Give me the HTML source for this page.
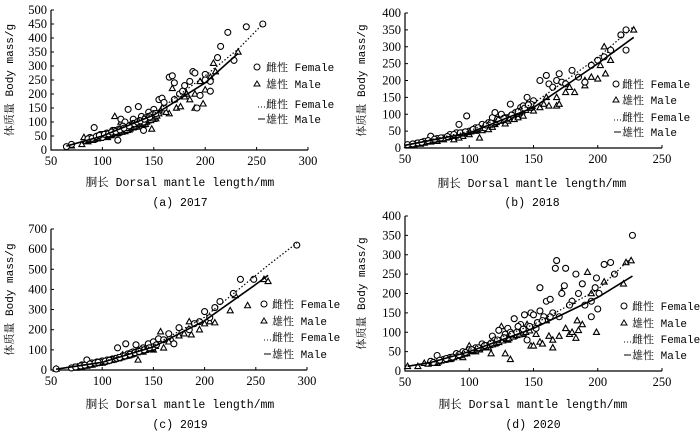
<!DOCTYPE html>
<html><head><meta charset="utf-8"><style>
html,body{margin:0;padding:0;background:#fff;}
svg{display:block;font-family:"Liberation Serif","Noto Serif CJK SC",serif;}
</style></head><body>
<svg id="chart" width="700" height="434" viewBox="0 0 700 434"></svg>
<script>
// ---- Data: (a) 2017 ----
const aFemL=[65,70,92,88,100,105,110,115,118,125,122,130,135,140,138,145,150,155,158,160,165,168,170,175,180,185,188,190,192,195,200,205,205,212,215,222,228,240,256,110,120,130,145,160,178,200,95,100,108,128,140,150,170,98,104,112,116,124,132,136,142,148,86,90,94,97,102,106,109,113,117,121,126,131,134,137,141,146,152];
const aFemW=[12,20,80,45,55,60,70,35,110,145,100,110,155,70,120,135,145,180,185,150,260,265,240,200,230,245,280,275,150,195,270,210,245,330,370,420,320,440,450,65,85,95,120,170,210,250,50,45,58,90,100,130,180,55,60,70,75,80,95,105,115,125,40,42,48,52,56,58,64,66,72,78,86,94,100,104,110,118,130];
const aMalL=[70,80,82,90,95,100,105,112,115,120,125,130,135,140,148,150,155,160,165,168,172,176,180,185,190,195,198,200,205,208,210,232,118,128,138,145,158,170,182,190,86,92,98,104,108,114,122,126,134,142,152,162,84,87,89,91,93,96,97,99,101,103,106,107,109,111,113,116,117,119,121,123,124,127,129,131,133,136,137,139,141,143,144,146,147,149,151,153];
const aMalW=[15,20,45,35,40,50,45,120,60,70,75,80,95,90,75,110,130,140,130,220,150,155,190,180,150,245,165,215,260,310,280,350,100,85,100,115,150,180,200,200,30,38,42,48,52,58,66,72,82,92,112,135,32,35,38,36,40,44,42,47,46,50,52,55,54,58,60,62,65,64,68,72,70,76,80,82,86,90,92,96,98,100,104,108,106,112,118,122];
const aCurveL=[65,100,150,200,232,256];
const aFemCurve=[14,50,130,265,360,450];
const aMalCurve=[14,50,125,240,345,null];
// ---- Data: (b) 2018 ----
const bFemL=[52,60,70,80,90,92,98,105,110,118,120,125,132,140,145,150,155,160,162,165,168,170,172,180,185,190,195,200,205,218,222,222,100,112,130,140,148,175,210,85,75,65,95,102,108,115,122,128,136,142,56,63,68,73,78,83,88,93,97,103,107,113,117,123,127,133,138,143,146];
const bFemW=[10,15,35,30,45,70,95,60,70,90,105,100,130,120,150,140,200,215,190,180,200,220,195,230,210,195,245,260,270,335,350,290,50,60,90,110,130,190,290,40,28,20,45,52,58,75,85,90,105,125,12,17,22,26,30,34,40,45,48,55,60,68,74,82,88,98,108,118,128];
const bMalL=[52,58,65,75,85,95,100,108,115,125,135,142,150,155,158,162,168,170,168,178,182,190,190,195,200,202,205,206,210,210,228,120,130,145,160,175,88,105,62,70,80,92,110,118,128,138,148,55,57,60,62,64,67,69,72,74,77,79,82,84,87,89,91,94,96,99,101,104,106,109,111,114,116,119,121,124,126,129,131,134,137,139,141,144,147,149];
const bMalW=[8,12,15,20,35,35,40,30,55,80,85,95,110,120,130,125,125,130,150,180,165,200,185,210,205,245,300,220,290,260,350,70,80,130,150,165,25,50,12,18,25,30,52,62,72,90,120,9,10,13,14,16,18,20,22,24,26,28,30,32,35,36,38,42,43,46,48,52,55,58,62,66,68,72,76,80,82,86,90,96,100,104,108,112,118,124];
const bCurveL=[50,100,150,200,228];
const bFemCurve=[8,50,132,268,360];
const bMalCurve=[8,45,120,250,328];
// ---- Data: (c) 2019 ----
const cFemL=[55,70,85,95,105,115,118,123,130,133,140,145,150,155,160,165,170,175,185,195,200,205,210,215,228,235,248,290,100,110,125,138,150,190,80,90,98,108,112,120,128,135,143,74,79,83,88,93,96,103,107,114,117,122,127,132,136,141,146,153];
const cFemW=[5,10,50,40,50,110,60,130,90,125,110,130,140,155,150,180,130,210,200,240,290,260,310,340,380,450,450,620,45,55,80,100,115,230,25,35,40,50,55,70,85,95,105,15,20,24,30,35,38,44,48,58,62,70,78,86,92,100,110,125];
const cMalL=[55,75,85,95,105,115,125,135,140,150,157,160,168,175,185,187,195,200,205,210,225,230,242,258,262,120,130,145,165,180,110,100,80,90,102,112,118,128,138,148,72,76,78,82,84,87,89,92,94,97,99,101,104,106,109,111,113,116,119,121,123,126,129,131,134,137,139,142,144,147,149,152];
const cMalW=[5,10,20,35,45,60,70,50,90,100,190,110,150,170,240,175,200,230,240,235,295,370,320,450,440,75,85,105,140,180,50,35,15,25,40,55,65,75,90,105,12,15,16,20,22,25,27,30,32,34,36,38,42,45,48,50,54,58,62,66,68,72,78,80,86,90,94,98,102,108,112,118];
const cCurveL=[55,100,150,200,250,262,290];
const cFemCurve=[4,40,122,262,470,520,630];
const cMalCurve=[4,38,115,245,425,470,null];
// ---- Data: (d) 2020 ----
const dFemL=[70,75,80,90,100,110,118,123,130,135,140,143,145,148,150,152,155,155,160,163,165,167,168,170,172,174,175,180,183,185,188,190,195,195,198,199,200,201,205,210,213,227,120,128,138,158,178,85,95,105,112,132,72,77,82,87,92,97,102,107,112,117,122,127,133,137,142,147,153,157,163];
const dFemW=[25,40,30,45,55,70,90,105,110,135,120,145,80,150,145,110,215,155,180,185,150,265,285,140,200,220,265,180,250,200,225,170,140,180,215,240,160,200,275,280,250,350,80,95,115,140,170,35,50,60,65,100,22,28,32,36,42,48,55,60,66,72,80,86,95,100,108,115,125,130,140];
const dMalL=[52,60,65,75,85,95,100,105,117,125,128,132,140,145,148,150,152,155,157,162,165,165,170,172,175,178,180,183,184,185,188,192,195,199,205,220,222,226,110,120,135,160,180,90,80,98,108,115,130,142,68,71,73,76,78,81,83,86,88,91,93,96,98,101,103,106,108,111,113,116,118,121,123,126,129,131,134,137,139,142,144,147];
const dMalW=[12,12,20,20,30,35,65,50,45,115,45,30,100,120,65,65,95,75,70,90,60,80,90,205,110,95,100,85,130,105,120,255,200,100,230,225,280,285,60,70,90,130,180,40,28,45,55,60,80,95,18,20,22,24,26,28,30,32,35,38,40,44,46,50,52,55,58,60,62,66,68,72,74,78,82,84,88,92,94,98,100,104];
const dCurveL=[52,70,100,150,200,227];
const dFemCurve=[null,20,55,120,210,295];
const dMalCurve=[12,22,50,110,190,245];

const NS='http://www.w3.org/2000/svg';
const svg=document.getElementById('chart');
const MONO='"Liberation Mono","Noto Serif CJK SC",monospace';
function mk(tag,attrs,parent,text){const e=document.createElementNS(NS,tag);for(const k in attrs)e.setAttribute(k,attrs[k]);if(text!==undefined)e.textContent=text;(parent||svg).appendChild(e);return e;}

function panel(p){
  const g=mk('g',{});
  
  
  const sx=v=>p.x0+(v-p.xmin)/(p.xmax-p.xmin)*(p.x1-p.x0);
  const sy=v=>p.y0-(v-p.ymin)/(p.ymax-p.ymin)*(p.y0-p.y1);
  const ax=mk('path',{d:`M${p.x0},${p.y1}V${p.y0}H${p.x1}`,fill:'none',stroke:'#000','stroke-width':1.2},g);
  
  
  for(let v=p.ymin;v<=p.ymax;v+=p.ystep){
    const y=sy(v);
    mk('line',{x1:p.x0,x2:p.x0+3,y1:y,y2:y,stroke:'#000'},g);
    const t=mk('text',{x:p.x0-4,y:y+4,'text-anchor':'end','font-size':12.5},g,String(v));
    
    
  }
  for(let v=p.xmin;v<=p.xmax;v+=50){
    const x=sx(v);
    mk('line',{x1:x,x2:x,y1:p.y0,y2:p.y0-3,stroke:'#000'},g);
    const t=mk('text',{x:x,y:p.y0+15,'text-anchor':'middle','font-size':12.5},g,String(v));
    
    
  }
  const xl=mk('text',{x:p.cx,y:p.xly,'text-anchor':'middle','font-size':11.5,'font-family':MONO},g,'胴长 Dorsal mantle length/mm');
  
  
  const cap=mk('text',{x:p.cx,y:p.capy,'text-anchor':'middle','font-size':11.5,'font-family':MONO},g,p.cap);
  
  
  const yc=(p.y0+p.y1)/2;
  const yl=mk('text',{x:p.ylx,y:yc,'text-anchor':'middle','font-size':11,'font-family':MONO,transform:`rotate(-90 ${p.ylx} ${yc})`},g,'体质量 Body mass/g');
  
  
  p.mL.forEach((l,i)=>{
    const x=sx(l),y=sy(p.mW[i]);
    const m=mk('path',{d:`M${x},${y-3.2}L${x+3},${y+2.2}L${x-3},${y+2.2}Z`,fill:'#fff',stroke:'#000','stroke-width':1.1},g);
    
    
  });
  p.fL.forEach((l,i)=>{
    const c=mk('circle',{cx:sx(l),cy:sy(p.fW[i]),r:3,fill:'#fff',stroke:'#000','stroke-width':1.1},g);
    
    
  });
  const line=(arr,dash,name)=>{
    let d='';p.cL.forEach((l,i)=>{if(arr[i]==null)return;d+=(d?'L':'M')+sx(l)+','+sy(arr[i]);});
    const e=mk('path',{d:d,fill:'none',stroke:'#000','stroke-width':dash?1.2:1.6,'stroke-dasharray':dash?'1.5 2':'none'},g);
    
    
  };
  line(p.fC,true,'female-fit-line');
  line(p.mC,false,'male-fit-line');
  const L=p.leg, lg=mk('g',{},g);
  
  
  const lab=['雌性 Female','雄性 Male','雌性 Female','雄性 Male'];
  lab.forEach((s,i)=>{
    const y=L.ys[i];
    if(i==0)mk('circle',{cx:L.mx,cy:y,r:3,fill:'#fff',stroke:'#000'},lg);
    if(i==1)mk('path',{d:`M${L.mx},${y-3}L${L.mx+3},${y+2}L${L.mx-3},${y+2}Z`,fill:'#fff',stroke:'#000'},lg);
    if(i==2)mk('line',{x1:L.tx-8,x2:L.tx-1,y1:y+3,y2:y+3,stroke:'#000','stroke-dasharray':'1 2'},lg);
    if(i==3)mk('line',{x1:L.tx-8,x2:L.tx-1,y1:y,y2:y,stroke:'#000'},lg);
    const t=mk('text',{x:L.tx,y:y+4,'font-size':11,'font-family':MONO},lg,s);
    
    
  });
}
panel({id:'a',x0:51,x1:308,y0:150,y1:10,xmin:50,xmax:300,ymin:0,ymax:500,ystep:50,cx:180,xly:186,capy:206,ylx:13,cap:'(a) 2017',
 fL:aFemL,fW:aFemW,mL:aMalL,mW:aMalW,cL:aCurveL,fC:aFemCurve,mC:aMalCurve,leg:{mx:257,tx:266,ys:[67,84,104,119]}});
panel({id:'b',x0:405,x1:662,y0:148,y1:13,xmin:50,xmax:250,ymin:0,ymax:400,ystep:50,cx:532,xly:187,capy:206,ylx:365,cap:'(b) 2018',
 fL:bFemL,fW:bFemW,mL:bMalL,mW:bMalW,cL:bCurveL,fC:bFemCurve,mC:bMalCurve,leg:{mx:616,tx:622,ys:[84,100,117,132]}});
panel({id:'c',x0:51,x1:307,y0:370,y1:229,xmin:50,xmax:300,ymin:0,ymax:700,ystep:100,cx:180,xly:408,capy:428,ylx:13,cap:'(c) 2019',
 fL:cFemL,fW:cFemW,mL:cMalL,mW:cMalW,cL:cCurveL,fC:cFemCurve,mC:cMalCurve,leg:{mx:264,tx:272,ys:[304,321,337,354]}});
panel({id:'d',x0:405,x1:662,y0:371,y1:216,xmin:50,xmax:250,ymin:0,ymax:400,ystep:50,cx:533,xly:408,capy:428,ylx:365,cap:'(d) 2020',
 fL:dFemL,fW:dFemW,mL:dMalL,mW:dMalW,cL:dCurveL,fC:dFemCurve,mC:dMalCurve,leg:{mx:624,tx:632,ys:[306,323,339,355]}});
</script>
</body></html>
